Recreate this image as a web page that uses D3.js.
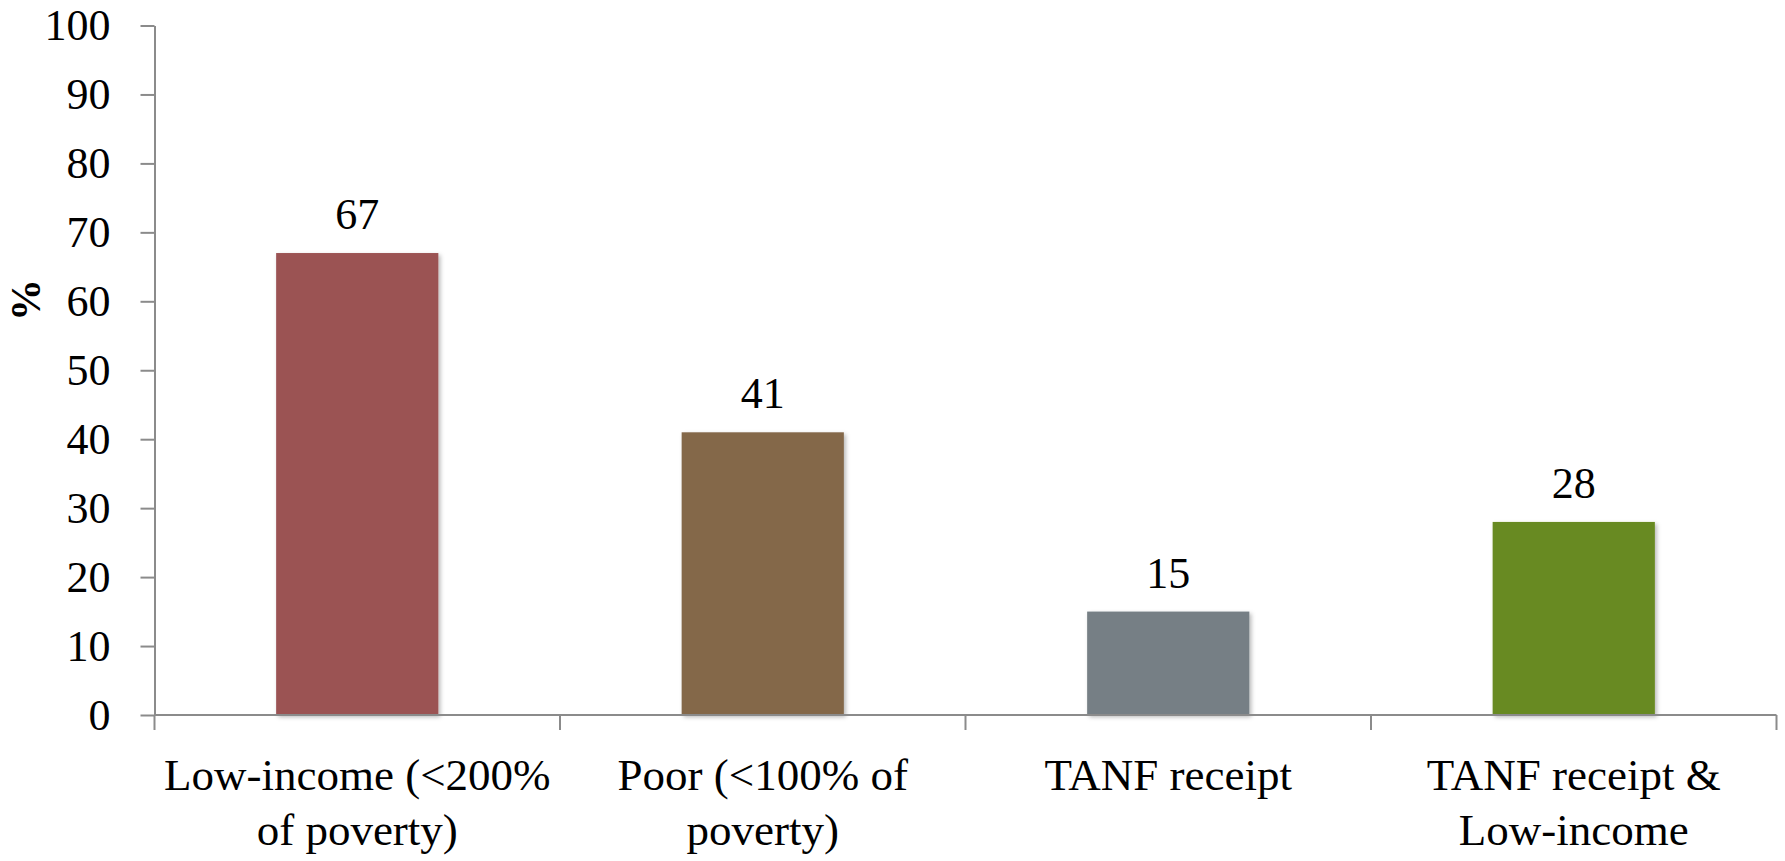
<!DOCTYPE html>
<html>
<head>
<meta charset="utf-8">
<script src="https://cdn.jsdelivr.net/npm/d3@7"></script>
<style>
  html, body { margin: 0; padding: 0; background: #ffffff; }
  svg { display: block; }
  text { font-family: "Liberation Serif", "Times New Roman", serif; fill: #000; }
</style>
</head>
<body>
<script>
// Share of children in each group (%)
const categories = [
  "Low-income (<200% of poverty)",
  "Poor (<100% of poverty)",
  "TANF receipt",
  "TANF receipt & Low-income"
];
// Category labels as they wrap under the axis
const categoryLines = [
  ["Low-income (<200%", "of poverty)"],
  ["Poor (<100% of", "poverty)"],
  ["TANF receipt"],
  ["TANF receipt &", "Low-income"]
];
const values = [67, 41, 15, 28];
const barColors = ["#9b5253", "#84674a", "#767f85", "#678a23"];
const yTicks = [0, 10, 20, 30, 40, 50, 60, 70, 80, 90, 100];
const yTitle = "%";

const width = 1785, height = 861;
const plot = { left: 154.5, right: 1776.5, top: 25.5, bottom: 715 };
const axisColor = "#8b8b8b";
const fontSize = 44;
const catFontSize = 45;

const svg = d3.select("body").append("svg")
  .attr("width", width)
  .attr("height", height);

// soft shadow under each bar
const defs = svg.append("defs");
defs.append("filter")
  .attr("id", "barShadow")
  .attr("x", "-10%").attr("y", "-10%")
  .attr("width", "130%").attr("height", "130%")
  .append("feDropShadow")
  .attr("dx", 2).attr("dy", 2)
  .attr("stdDeviation", 2)
  .attr("flood-color", "#000")
  .attr("flood-opacity", 0.28);

const x = d3.scaleBand()
  .domain(categories)
  .range([plot.left, plot.right])
  .paddingInner(0.6)
  .paddingOuter(0.3);

const y = d3.scaleLinear()
  .domain([0, 100])
  .range([plot.bottom, plot.top]);

// bars
svg.append("g")
  .selectAll("rect")
  .data(values)
  .join("rect")
  .attr("x", (d, i) => x(categories[i]))
  .attr("y", d => y(d))
  .attr("width", x.bandwidth())
  .attr("height", d => y(0) - y(d))
  .attr("fill", (d, i) => barColors[i])
  .attr("filter", "url(#barShadow)");

// value labels above the bars
svg.append("g")
  .selectAll("text")
  .data(values)
  .join("text")
  .attr("x", (d, i) => x(categories[i]) + x.bandwidth() / 2)
  .attr("y", d => y(d) - 24)
  .attr("text-anchor", "middle")
  .style("font-size", fontSize + "px")
  .text(d => d);

// y axis
const yAxis = svg.append("g")
  .attr("transform", `translate(${plot.left},0)`)
  .call(d3.axisLeft(y)
    .tickValues(yTicks)
    .tickSize(14)
    .tickSizeOuter(0)
    .tickPadding(30));
yAxis.select(".domain").attr("stroke", axisColor).attr("stroke-width", 2);
yAxis.selectAll(".tick line").attr("stroke", axisColor).attr("stroke-width", 2);
yAxis.selectAll(".tick text")
  .style("font-size", fontSize + "px")
  .style("font-family", "'Liberation Serif', serif")
  .attr("fill", "#000");

// x axis: baseline with ticks at the category boundaries
const xAxisG = svg.append("g")
  .attr("transform", `translate(0,${plot.bottom})`);
xAxisG.append("line")
  .attr("x1", plot.left).attr("x2", plot.right)
  .attr("y1", 0).attr("y2", 0)
  .attr("stroke", axisColor).attr("stroke-width", 2);
const boundaries = d3.range(categories.length + 1)
  .map(i => plot.left + i * x.step());
xAxisG.selectAll("line.boundary")
  .data(boundaries)
  .join("line")
  .attr("class", "boundary")
  .attr("x1", d => d).attr("x2", d => d)
  .attr("y1", 0).attr("y2", 15)
  .attr("stroke", axisColor).attr("stroke-width", 2);

// category labels
const catLabels = xAxisG.selectAll("text.cat")
  .data(categories)
  .join("text")
  .attr("class", "cat")
  .attr("x", d => x(d) + x.bandwidth() / 2)
  .attr("y", 75)
  .attr("text-anchor", "middle")
  .style("font-size", catFontSize + "px");
catLabels.each(function (d, i) {
  d3.select(this).selectAll("tspan")
    .data(categoryLines[i])
    .join("tspan")
    .attr("x", x(d) + x.bandwidth() / 2)
    .attr("dy", (t, j) => j === 0 ? 0 : 55)
    .text(t => t);
});

// y axis title
svg.append("text")
  .attr("transform", `translate(40,300) rotate(-90)`)
  .attr("text-anchor", "middle")
  .style("font-size", "42px")
  .style("font-weight", "bold")
  .text(yTitle);
</script>
</body>
</html>
